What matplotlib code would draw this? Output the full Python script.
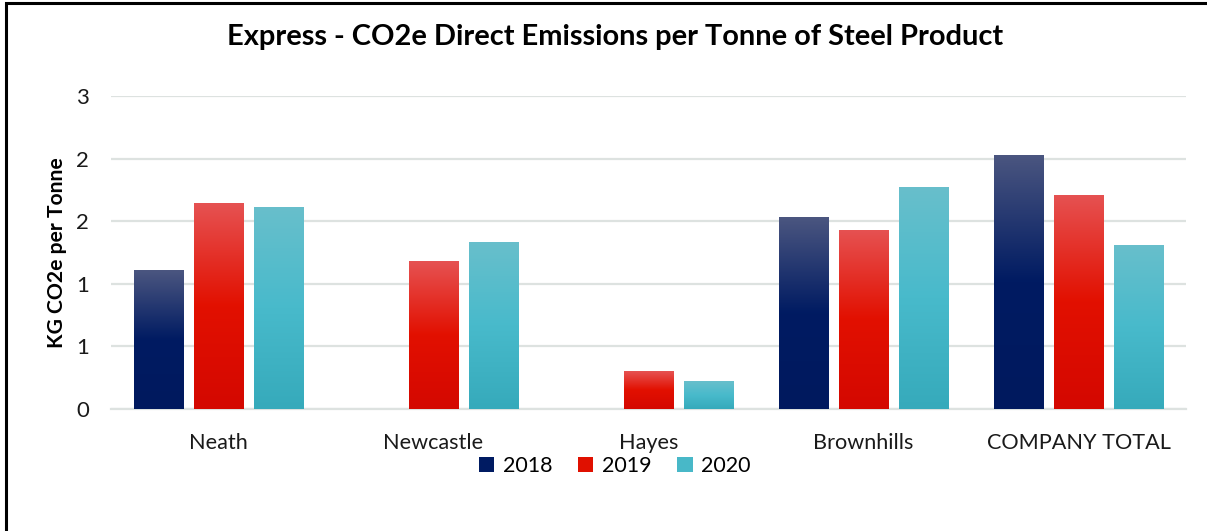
import numpy as np
import matplotlib
matplotlib.use("Agg")
import matplotlib.pyplot as plt
from matplotlib.colors import LinearSegmentedColormap
from matplotlib.patches import Patch, Rectangle

sites = ["Neath", "Newcastle", "Hayes", "Brownhills", "COMPANY TOTAL"]
years = ["2018", "2019", "2020"]
values_2018 = [1.11, 0.0, 0.0, 1.53, 2.03]
values_2019 = [1.645, 1.18, 0.30, 1.43, 1.71]
values_2020 = [1.61, 1.33, 0.22, 1.77, 1.31]
y_ticks = [0, 0.5, 1.0, 1.5, 2.0, 2.5]

# gradient stops, bottom -> top
gradients = {
    "2018": [(0.0, "#00195e"), (0.5, "#001b62"), (1.0, "#4b5680")],
    "2019": [(0.0, "#d40800"), (0.5, "#e21000"), (1.0, "#e65252")],
    "2020": [(0.0, "#36aabb"), (0.5, "#48bacb"), (1.0, "#68bfcc")],
}
legend_colors = {"2018": "#001b62", "2019": "#e01000", "2020": "#48b8c8"}

plt.rcParams["font.family"] = ["Lato", "DejaVu Sans"]

fig = plt.figure(figsize=(12.07, 5.31), dpi=100)
ax = fig.add_axes([111 / 1207, 1 - 409 / 531, 1075 / 1207, 313 / 531])

x = np.arange(len(sites))
width = 0.228
step = 0.2775
series = [values_2018, values_2019, values_2020]

grad = np.linspace(0, 1, 256).reshape(-1, 1)
for i, (year, vals) in enumerate(zip(years, series)):
    cmap = LinearSegmentedColormap.from_list(year, gradients[year])
    bars = ax.bar(x + (i - 1) * step, vals, width, color="none", edgecolor="none", zorder=3)
    for bar in bars:
        h = bar.get_height()
        if h <= 0:
            continue
        x0 = bar.get_x()
        im = ax.imshow(grad, cmap=cmap, origin="lower", aspect="auto",
                       extent=[x0, x0 + bar.get_width(), 0, h], zorder=3,
                       interpolation="bicubic")
        im.set_clip_path(bar)

# axis labels are whole numbers, halves rounded up
tick_text = [str(int(np.floor(v + 0.5))) for v in y_ticks]

ax.set_xlim(-0.5, len(sites) - 0.5)
ax.set_ylim(0, 2.5)
ax.set_yticks(y_ticks)
ax.set_yticklabels(tick_text)
ax.set_xticks(x)
ax.set_xticklabels(sites)
ax.tick_params(axis="both", length=0, labelsize=16, colors="#1a1a1a")
ax.tick_params(axis="x", labelsize=15.6)
ax.tick_params(axis="y", pad=16)
ax.tick_params(axis="x", pad=17)
ax.grid(axis="y", color="#dde2e0", linewidth=1.6, zorder=0)
ax.set_axisbelow(True)
for side in ["top", "right", "left"]:
    ax.spines[side].set_visible(False)
ax.spines["bottom"].set_color("#dde2e0")
ax.spines["bottom"].set_linewidth(1.6)

ax.set_ylabel("KG CO2e per Tonne", fontsize=15.2, fontweight="bold", va="center")
ax.yaxis.set_label_coords((57 - 111) / 1075, 0.5)

fig.text(615 / 1207, 1 - 37 / 531, "Express - CO2e Direct Emissions per Tonne of Steel Product",
         ha="center", va="center", fontsize=20.9, fontweight="bold")

handles = [Patch(facecolor=legend_colors[y], edgecolor="none") for y in years]
fig.legend(handles, years, loc="center", bbox_to_anchor=(615 / 1207, 1 - 466 / 531),
           ncol=3, frameon=False, fontsize=15.5, handlelength=0.7, handleheight=0.7,
           handletextpad=0.4, columnspacing=1.2)

# chart frame
fig.patches.append(Rectangle((6 / 1207, -0.1), 1.2, 1 - 3 / 531 + 0.1, transform=fig.transFigure,
                             fill=False, edgecolor="black", linewidth=2.2))

fig.savefig("out.png", dpi=100)
